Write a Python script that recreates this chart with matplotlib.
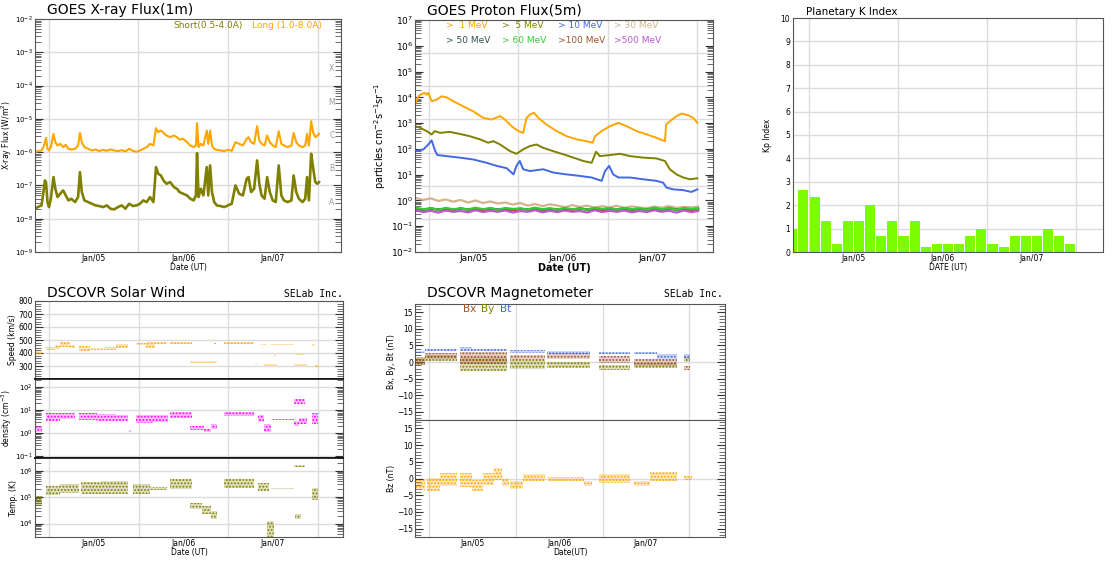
import numpy as np
import matplotlib.pyplot as plt
from matplotlib.ticker import LogLocator, MultipleLocator, NullFormatter

W, H = 1112, 561
plt.rcParams['font.family'] = ['DejaVu Sans']
plt.rcParams['hatch.linewidth'] = 0.9
fig = plt.figure(figsize=(W / 100, H / 100), dpi=100)

# time axis: hours from Jan/05 00:00 UT
day_edges = [0, 24, 48, 72]
day_mid = [12, 36, 60]
day_labels = ['Jan/05', 'Jan/06', 'Jan/07']

# ---------------- GOES X-ray (log10 W/m^2) ----------------
xray_t = [-3.7, -3, -2, -1.5, -1.1, -0.8, -0.4, 0, 0.5, 1.2, 1.7, 2.3, 3, 3.8, 4.5, 5.2, 6, 7, 7.8,
          8.3, 8.8, 9.5, 10.5, 11.5, 12.5, 13.5, 14.5, 15.5, 16.5, 17.5, 18.5, 19.5, 20.5, 21.5, 22.5,
          23.5, 24.4, 25.3, 26.2, 27.1, 28, 28.7, 29.3, 30, 30.7, 31.5, 32.5, 33.5, 34.3, 35, 36, 37,
          37.9, 38.8, 39.4, 39.7, 40.1, 40.7, 41.4, 42.3, 42.7, 43.2, 43.7, 44.3, 45, 46, 47, 48, 49,
          50, 51, 52, 53, 53.5, 54.2, 55, 55.8, 56.4, 57, 57.8, 58.5, 59.2, 60, 60.8, 61.6, 62.3, 63,
          64, 65, 65.6, 66.3, 67, 68, 68.7, 69.2, 69.7, 70.3, 70.8, 71.4, 72, 72.4]
xray_long = [-6.0, -5.97, -5.95, -5.85, -5.7, -5.57, -5.9, -5.95, -5.85, -5.45, -5.7, -5.8, -5.75,
             -5.85, -5.78, -5.9, -5.92, -5.9, -5.8, -5.42, -5.7, -5.85, -5.9, -5.95, -5.92, -5.97,
             -5.93, -5.96, -5.92, -5.95, -5.97, -5.94, -5.98, -5.9, -5.96, -5.99, -5.95, -5.9, -5.85,
             -5.75, -5.8, -5.28, -5.4, -5.35, -5.42, -5.5, -5.55, -5.5, -5.55, -5.62, -5.6, -5.7,
             -5.8, -5.85, -5.8, -5.13, -5.85, -5.75, -5.8, -5.35, -5.75, -5.35, -5.8, -5.9, -5.93,
             -5.95, -5.97, -5.93, -5.96, -5.7, -5.75, -5.8, -5.6, -5.55, -5.7, -5.75, -5.22, -5.65,
             -5.75, -5.8, -5.5, -5.7, -5.8, -5.85, -5.37, -5.75, -5.8, -5.85, -5.8, -5.42, -5.7,
             -5.8, -5.85, -5.8, -5.45, -5.8, -5.07, -5.4, -5.55, -5.5, -5.45]
xray_short = [-7.7, -7.65, -7.6, -7.2, -6.85, -6.9, -7.5, -7.65, -7.4, -6.75, -7.1, -7.35, -7.25,
              -7.15, -7.3, -7.45, -7.4, -7.5, -7.35, -6.6, -7.2, -7.45, -7.5, -7.55, -7.6, -7.62,
              -7.65, -7.6, -7.7, -7.72, -7.65, -7.6, -7.7, -7.55, -7.62, -7.6, -7.55, -7.45, -7.5,
              -7.35, -7.5, -6.45, -6.65, -6.7, -6.85, -6.95, -6.9, -7.05, -7.1, -7.2, -7.25, -7.3,
              -7.4, -7.45, -7.3, -6.03, -7.35, -7.1, -7.3, -6.45, -7.3, -6.4, -7.2, -7.5, -7.6,
              -7.62, -7.65, -7.6, -7.55, -7.0, -7.25, -7.3, -6.8, -6.75, -7.2, -7.1, -6.25, -6.95,
              -7.3, -7.4, -6.75, -7.2, -7.45, -7.5, -6.4, -7.3, -7.45, -7.5, -7.45, -6.7, -7.2,
              -7.4, -7.5, -7.4, -6.75, -7.45, -6.05, -6.45, -6.9, -6.95, -6.9]
flare_classes = ['X', 'M', 'C', 'B', 'A']
flare_levels = [-3.5, -4.5, -5.5, -6.5, -7.5]

# ---------------- GOES protons (log10 pfu) ----------------
p1_t = [-3.76, -2.86, -1.97, -1.07, -0.63, -0.18, 0.72, 2.06, 3.4, 4.74, 6.54, 9.22, 11.9, 14.6,
        16.8, 19.1, 20.4, 22.2, 24.0, 25.3, 26.2, 27.1, 28.2, 29.4, 31.6, 34.3, 37.0, 39.7, 42.3,
        44.0, 44.6, 46.4, 48.6, 50.9, 53.1, 55.8, 58.5, 61.1, 63.4, 63.7, 64.7, 66.5, 67.9, 69.7,
        71.0, 72.1]
p1_log = [3.72, 4.04, 4.13, 4.17, 4.1, 4.17, 3.85, 3.91, 4.04, 4.0, 3.85, 3.65, 3.46, 3.2, 3.14,
          3.27, 3.14, 2.88, 2.69, 2.62, 3.2, 3.33, 3.4, 3.2, 2.94, 2.69, 2.49, 2.37, 2.3, 2.24,
          2.49, 2.69, 2.88, 3.01, 2.88, 2.69, 2.56, 2.43, 2.3, 2.94, 3.07, 3.27, 3.37, 3.3, 3.2,
          3.01]
p5_t = [-3.76, -2.4, -0.63, 0.72, 1.6, 2.95, 5.6, 8.3, 11.0, 13.7, 15.9, 17.3, 19.1, 21.8, 23.5,
        25.3, 27.1, 28.9, 30.7, 33.4, 36.1, 38.8, 41.5, 43.7, 44.9, 45.9, 48.6, 51.3, 54.0, 57.6,
        61.1, 63.4, 64.7, 66.5, 68.3, 70.1, 72.1]
p5_log = [2.88, 2.82, 2.69, 2.56, 2.69, 2.62, 2.66, 2.58, 2.49, 2.37, 2.24, 2.3, 2.17, 1.91, 1.81,
          1.98, 2.11, 2.17, 2.04, 1.91, 1.79, 1.66, 1.53, 1.46, 1.89, 1.72, 1.76, 1.81, 1.72, 1.66,
          1.63, 1.53, 1.21, 1.01, 0.89, 0.82, 0.86]
p10_t = [-3.76, -1.5, -0.18, 0.72, 1.6, 2.24, 4.74, 8.3, 11.9, 15.5, 18.2, 20.9, 22.7, 23.5, 24.4,
         25.3, 27.1, 30.7, 33.4, 37.0, 40.6, 43.7, 46.4, 47.3, 48.4, 49.5, 50.9, 54.0, 57.6, 61.1,
         62.9, 63.8, 65.6, 68.3, 70.5, 72.1]
p10_log = [1.91, 1.98, 2.17, 2.33, 1.95, 1.76, 1.72, 1.66, 1.59, 1.46, 1.34, 1.25, 1.01, 1.34,
           1.53, 1.21, 1.14, 1.21, 1.08, 1.01, 0.95, 0.89, 0.76, 1.14, 1.34, 1.01, 0.89, 0.89, 0.82,
           0.76, 0.69, 0.5, 0.43, 0.4, 0.33, 0.43]
flat_t = [-3.7, -1.5, 0.5, 2.5, 4.5, 6.5, 8.5, 10.5, 12.5, 14.5, 16.5, 18.5, 20.5, 22.5, 24.5, 26.5,
          28.5, 30.5, 32.5, 34.5, 36.5, 38.5, 40.5, 42.5, 44.5, 46.5, 48.5, 50.5, 52.5, 54.5, 56.5,
          58.5, 60.5, 62.5, 64.5, 66.5, 68.5, 70.5, 72.3]
p30_log = [0.1, 0.02, 0.08, -0.02, 0.04, -0.05, 0.02, -0.08, 0.0, -0.1, -0.04, -0.12, -0.08, -0.16,
           -0.1, -0.2, -0.14, -0.22, -0.15, -0.2, -0.26, -0.18, -0.25, -0.2, -0.28, -0.22, -0.27,
           -0.21, -0.29, -0.23, -0.27, -0.3, -0.24, -0.28, -0.22, -0.29, -0.25, -0.27, -0.24]
p50_log = [-0.3, -0.36, -0.31, -0.35, -0.32, -0.37, -0.31, -0.35, -0.33, -0.36, -0.31, -0.35, -0.33,
           -0.37, -0.32, -0.35, -0.31, -0.36, -0.33, -0.35, -0.32, -0.36, -0.31, -0.35, -0.33, -0.37,
           -0.32, -0.35, -0.31, -0.36, -0.33, -0.35, -0.32, -0.36, -0.31, -0.35, -0.33, -0.36, -0.32]
p60_log = [-0.28, -0.34, -0.3, -0.36, -0.29, -0.34, -0.31, -0.35, -0.28, -0.34, -0.3, -0.36, -0.29,
           -0.33, -0.31, -0.35, -0.28, -0.34, -0.3, -0.35, -0.29, -0.34, -0.31, -0.36, -0.28, -0.33,
           -0.3, -0.35, -0.29, -0.34, -0.31, -0.35, -0.28, -0.34, -0.3, -0.36, -0.29, -0.33, -0.31]
p100_log = [-0.33, -0.37, -0.32, -0.36, -0.34, -0.38, -0.32, -0.36, -0.34, -0.37, -0.33, -0.36,
            -0.34, -0.38, -0.33, -0.36, -0.32, -0.37, -0.34, -0.36, -0.33, -0.37, -0.32, -0.36,
            -0.34, -0.38, -0.33, -0.36, -0.32, -0.37, -0.34, -0.36, -0.33, -0.37, -0.32, -0.36,
            -0.34, -0.37, -0.33]
p500_log = [-0.38, -0.45, -0.4, -0.47, -0.39, -0.44, -0.41, -0.46, -0.38, -0.45, -0.4, -0.44, -0.39,
            -0.47, -0.41, -0.44, -0.38, -0.46, -0.4, -0.45, -0.39, -0.44, -0.41, -0.47, -0.38, -0.45,
            -0.4, -0.44, -0.39, -0.46, -0.41, -0.45, -0.38, -0.44, -0.4, -0.47, -0.39, -0.45, -0.41]
proton_names = ['>  1 MeV', '>  5 MeV', '> 10 MeV', '> 30 MeV',
                '> 50 MeV', '> 60 MeV', '>100 MeV', '>500 MeV']
proton_colors = ['#FFA500', '#808000', '#4169E1', '#D2B48C',
                 '#2F4F4F', '#32CD32', '#A0522D', '#BA55D3']

# ---------------- Kp, 3-hour bins ----------------
kp_start = [-6, -3, 0, 3, 6, 9, 12, 15, 18, 21, 24, 27, 30, 33, 36, 39, 42, 45, 48, 51, 54, 57,
            60, 63, 66, 69]
kp_values = [1.0, 2.67, 2.33, 1.33, 0.33, 1.33, 1.33, 2.0, 0.67, 1.33, 0.67, 1.33, 0.2, 0.33,
             0.33, 0.33, 0.67, 1.0, 0.33, 0.2, 0.67, 0.67, 0.67, 1.0, 0.67, 0.33]

# ---------------- DSCOVR plasma: (t0, t1, low, high) ----------------
speed_segments = [(-3.75, -2.0, 395, 412), (-0.9, 1.5, 420, 445), (1.5, 3.0, 428, 458),
                  (3.0, 5.5, 450, 488), (5.5, 7.0, 438, 465), (8.0, 11.0, 418, 452),
                  (11.0, 15.0, 420, 442), (15.0, 18.0, 425, 450), (18.0, 21.3, 438, 468),
                  (21.4, 21.8, 375, 388), (23.2, 26.0, 458, 475), (26.0, 28.5, 438, 482),
                  (28.5, 31.5, 468, 482), (32.5, 38.3, 470, 482), (37.9, 45.0, 325, 340),
                  (44.2, 44.8, 466, 474), (46.8, 54.9, 472, 484), (55.2, 56.0, 305, 315),
                  (56.7, 58.5, 462, 470), (57.6, 61.1, 303, 315), (59.4, 65.6, 458, 468),
                  (60.2, 60.8, 380, 390), (65.6, 69.2, 298, 312), (66.0, 68.5, 382, 390),
                  (70.5, 71.4, 455, 470), (71.4, 72.3, 295, 308)]
density_segments = [(-3.75, -2.0, 1.1, 2.1), (-0.9, 3.0, 3.5, 8.0), (3.0, 7.0, 4.0, 7.5),
                    (8.0, 13.0, 3.8, 8.0), (13.0, 18.0, 3.5, 7.0), (18.0, 21.3, 3.5, 6.5),
                    (21.5, 21.9, 1.1, 1.4), (23.2, 28.0, 2.8, 6.0), (28.0, 32.0, 3.2, 6.0),
                    (32.5, 38.3, 4.5, 8.5), (37.9, 41.5, 1.4, 2.0), (41.5, 43.5, 1.1, 1.6),
                    (43.5, 45.0, 1.5, 2.5), (46.8, 55.0, 5.5, 8.5), (56.0, 57.5, 3.0, 6.0),
                    (57.6, 59.4, 1.1, 2.5), (59.4, 65.6, 3.8, 4.3), (65.6, 67.0, 2.0, 3.5),
                    (65.8, 68.5, 18.0, 30.0), (67.0, 69.2, 2.5, 4.5), (70.5, 72.0, 2.5, 8.0)]
temp_segments = [(-3.75, -2.0, 4.5e4, 1.1e5), (-0.9, 3.0, 1.2e5, 2.6e5), (3.0, 8.0, 1.4e5, 3.2e5),
                 (8.5, 14.0, 1.3e5, 3.6e5), (14.0, 21.3, 1.3e5, 4.2e5), (22.6, 27.0, 1.3e5, 3.0e5),
                 (27.0, 31.6, 1.9e5, 2.5e5), (32.5, 38.3, 2.0e5, 5.0e5), (37.9, 41.0, 3.5e4, 6.0e4),
                 (41.0, 43.5, 2.2e4, 4.5e4), (43.5, 45.0, 1.5e4, 3.0e4), (46.8, 55.0, 2.3e5, 5.0e5),
                 (56.0, 59.0, 1.7e5, 3.5e5), (58.3, 60.3, 3.2e3, 1.2e4), (59.4, 65.6, 2.0e5, 2.3e5),
                 (65.8, 68.5, 1.4e6, 1.7e6), (66.0, 67.5, 1.5e4, 2.2e4), (70.5, 72.0, 8e4, 2.2e5)]

# ---------------- DSCOVR magnetometer (nT) ----------------
bt_segments = [(-3.9, -1.1, 2.7, 3.4), (-1.1, 7.8, 3.4, 4.0), (8.6, 12.0, 3.4, 4.6),
               (12.0, 21.5, 3.2, 4.0), (22.4, 32.0, 2.7, 3.6), (32.6, 44.6, 2.3, 3.2),
               (46.9, 55.7, 2.5, 3.1), (56.6, 63.0, 2.3, 3.0), (63.0, 68.6, 1.0, 2.3),
               (70.5, 72.3, 0.8, 2.5)]
bx_segments = [(-3.9, -1.1, -1.0, 1.2), (-1.1, 7.8, 0.8, 2.8), (8.6, 21.5, -0.5, 3.0),
               (22.4, 32.0, 0.5, 2.2), (32.6, 44.6, 0.8, 2.6), (46.9, 55.7, -0.3, 1.8),
               (56.6, 68.6, -1.3, 1.0), (70.5, 72.3, -2.4, -1.2)]
by_segments = [(-3.9, -1.1, -0.8, 1.6), (-1.1, 7.8, 0.4, 2.0), (8.6, 21.5, -2.6, 1.5),
               (22.4, 32.0, -2.2, 0.6), (32.6, 44.6, -1.8, 0.0), (46.9, 55.7, -2.3, -0.8),
               (56.6, 68.6, -1.9, -0.3), (70.5, 72.3, 0.0, 1.6)]
bz_segments = [(-3.9, -1.1, -3.3, -0.3), (-0.6, 3.0, -3.8, 0.2), (3.0, 7.7, -2.3, 1.5),
               (8.6, 12.0, -2.5, 1.5), (12.0, 15.0, -3.8, -0.5), (15.0, 18.0, -2.0, 1.5),
               (18.0, 20.2, -0.5, 3.2), (20.3, 22.0, -2.3, 0.0), (22.4, 26.0, -3.0, -0.8),
               (26.0, 32.0, -0.8, 1.2), (33.0, 42.8, -0.8, 0.5), (42.8, 45.0, -2.3, -0.8),
               (47.0, 55.7, -1.3, 1.2), (56.6, 61.2, -2.3, -0.8), (61.2, 68.6, -0.8, 2.0),
               (70.5, 72.8, -0.5, 0.8)]

SPINE = '#555555'
GRID = '#dcdcdc'


def make_ax(l, t, r, b):
    ax = fig.add_axes([l / W, 1 - b / H, (r - l) / W, (b - t) / H])
    for s in ax.spines.values():
        s.set_color(SPINE)
        s.set_linewidth(0.8)
    return ax


def date_axis(ax, xlim, show=True, fs=5.5):
    ax.set_xlim(xlim)
    for d in day_edges:
        ax.axvline(d, color=GRID, lw=1.0, zorder=0)
    ax.set_xticks(day_mid)
    ax.set_xticklabels(day_labels if show else [], fontsize=fs)
    ax.tick_params(axis='x', length=0, pad=1.5)


def dense_ticks(ax, fs):
    ax.tick_params(axis='y', which='both', direction='in', left=True, right=True, labelsize=fs, pad=1.5)
    ax.tick_params(axis='y', which='major', length=6, width=0.8, color='#333333')
    ax.tick_params(axis='y', which='minor', length=4, width=0.5, color='#333333')


def log_y(ax, fs):
    ax.set_yscale('log')
    ax.yaxis.set_major_locator(LogLocator(base=10, numticks=20))
    ax.yaxis.set_minor_locator(LogLocator(base=10, subs=np.arange(2, 10), numticks=20))
    ax.yaxis.set_minor_formatter(NullFormatter())
    dense_ticks(ax, fs)


def bands(ax, segs, color):
    # dotted cloud: faint fill plus a dense dot hatch
    for t0, t1, lo, hi in segs:
        ax.fill_between([t0, t1], [lo, lo], [hi, hi], color=color, alpha=0.25, linewidth=0, zorder=2)
        ax.fill_between([t0, t1], [lo, lo], [hi, hi], facecolor='none', edgecolor=color,
                        hatch='.....', linewidth=0, zorder=2)


# ===== GOES X-ray =====
ax1 = make_ax(35, 19, 341, 252)
date_axis(ax1, (-3.75, 78.3))
log_y(ax1, 5)
ax1.set_ylim(1e-9, 1e-2)
for k in range(-8, -2):
    ax1.axhline(10.0 ** k, color=GRID, lw=1.0, zorder=0)
ax1.plot(xray_t, 10 ** np.array(xray_long), color='#FFA500', lw=1.5)
ax1.plot(xray_t, 10 ** np.array(xray_short), color='#808000', lw=1.9)
for c, lv in zip(flare_classes, flare_levels):
    ax1.text(0.97, 10 ** lv, c, color='#999999', fontsize=5.5, ha='center', va='center',
             transform=ax1.get_yaxis_transform())
ax1.set_ylabel('X-ray Flux (W/m$^2$)', fontsize=5.5, labelpad=1)
ax1.set_xlabel('Date (UT)', fontsize=5.5, labelpad=0)
fig.text(47 / W, 1 - 14 / H, 'GOES X-ray Flux(1m)', fontsize=10, va='baseline')
fig.text(173 / W, 1 - 28 / H, 'Short(0.5-4.0A)', fontsize=6.5, color='#808000', va='baseline')
fig.text(252 / W, 1 - 28 / H, 'Long (1.0-8.0A)', fontsize=6.5, color='#FFA500', va='baseline')

# ===== GOES protons =====
ax2 = make_ax(415, 20, 713, 252)
date_axis(ax2, (-3.75, 76.3), fs=6.5)
log_y(ax2, 6.5)
ax2.set_ylim(1e-2, 1e7)
for k in range(1, 7):
    ax2.plot([0, 1], [k / 7, k / 7], color=GRID, lw=1.0, transform=ax2.transAxes, zorder=0)
flat_series = [p30_log, p50_log, p100_log, p60_log, p500_log]
flat_colors = ['#D2B48C', '#2F4F4F', '#A0522D', '#32CD32', '#BA55D3']
for ser, col in zip(flat_series, flat_colors):
    ax2.plot(flat_t, 10 ** np.array(ser), color=col, lw=1.6)
ax2.plot(p10_t, 10 ** np.array(p10_log), color='#4169E1', lw=1.4)
ax2.plot(p5_t, 10 ** np.array(p5_log), color='#808000', lw=1.4)
ax2.plot(p1_t, 10 ** np.array(p1_log), color='#FFA500', lw=1.4)
ax2.set_ylabel('particles cm$^{-2}$s$^{-1}$sr$^{-1}$', fontsize=7, labelpad=2)
ax2.set_xlabel('Date (UT)', fontsize=7, labelpad=0, fontweight='bold')
fig.text(427 / W, 1 - 15 / H, 'GOES Proton Flux(5m)', fontsize=10, va='baseline')
col_x = [446, 502, 558, 614]
for i, (name, col) in enumerate(zip(proton_names, proton_colors)):
    fig.text(col_x[i % 4] / W, 1 - (28 if i < 4 else 43) / H, name, fontsize=6.5, color=col,
             va='baseline')

# ===== Kp =====
ax3 = make_ax(793, 18, 1103, 252)
date_axis(ax3, (-4.3, 79.3))
ax3.set_ylim(0, 10)
ax3.set_yticks(range(0, 11))
for k in range(1, 10):
    ax3.axhline(k, color=GRID, lw=1.0, zorder=0)
ax3.tick_params(axis='y', length=0, labelsize=5.5, pad=2)
ax3.bar(np.array(kp_start) + 0.15, kp_values, width=2.7, align='edge', color='#7CFC00', zorder=2)
ax3.set_ylabel('Kp Index', fontsize=5.5, labelpad=6)
ax3.set_xlabel('DATE (UT)', fontsize=5.5, labelpad=0)
fig.text(806 / W, 1 - 15 / H, 'Planetary K Index', fontsize=7.5, va='baseline')

# ===== DSCOVR solar wind =====
sw1 = make_ax(35, 301, 343, 379)
sw2 = make_ax(35, 379, 343, 458)
sw3 = make_ax(35, 458, 343, 537)
for a in (sw1, sw2, sw3):
    date_axis(a, (-3.75, 78.8), show=(a is sw3))
sw1.set_ylim(200, 800)
sw1.set_yticks([300, 400, 500, 600, 700, 800])
sw1.yaxis.set_minor_locator(MultipleLocator(20))
dense_ticks(sw1, 5.5)
for v in [300, 400, 500, 600, 700]:
    sw1.axhline(v, color=GRID, lw=1.0, zorder=0)
bands(sw1, speed_segments, '#FFA500')
sw1.set_ylabel('Speed (km/s)', fontsize=5.5, labelpad=1)

log_y(sw2, 5)
sw2.set_ylim(10 ** -1.07, 10 ** 2.36)
for k in [0.1, 1, 10, 100]:
    sw2.axhline(k, color=GRID, lw=1.0, zorder=0)
bands(sw2, density_segments, '#FF00FF')
sw2.set_ylabel('density (cm$^{-3}$)', fontsize=5.5, labelpad=1)

log_y(sw3, 5)
sw3.set_ylim(10 ** 3.49, 10 ** 6.48)
for k in [1e4, 1e5, 1e6]:
    sw3.axhline(k, color=GRID, lw=1.0, zorder=0)
bands(sw3, temp_segments, '#808000')
sw3.set_ylabel('Temp. (K)', fontsize=5.5, labelpad=1)
sw3.set_xlabel('Date (UT)', fontsize=5.5, labelpad=0)
for a in (sw1, sw2):
    a.spines['bottom'].set_color('#111111')
    a.spines['bottom'].set_linewidth(1.2)
for a in (sw2, sw3):
    a.spines['top'].set_color('#111111')
    a.spines['top'].set_linewidth(1.2)
fig.text(47 / W, 1 - 297 / H, 'DSCOVR Solar Wind', fontsize=10, va='baseline')
fig.text(343 / W, 1 - 297 / H, 'SELab Inc.', fontsize=7, family='DejaVu Sans Mono', ha='right',
         va='baseline')

# ===== DSCOVR magnetometer =====
mg1 = make_ax(415, 304, 725, 420)
mg2 = make_ax(415, 420, 725, 537)
for a in (mg1, mg2):
    date_axis(a, (-3.9, 81.9), show=(a is mg2))
    a.set_ylim(-17.5, 17.5)
    a.set_yticks([-15, -10, -5, 0, 5, 10, 15])
    a.yaxis.set_minor_locator(MultipleLocator(1))
    dense_ticks(a, 5.5)
    a.axhline(0, color=GRID, lw=1.0, zorder=0)
bands(mg1, by_segments, '#808000')
bands(mg1, bx_segments, '#A0522D')
bands(mg1, bt_segments, '#4169E1')
bands(mg2, bz_segments, '#FFA500')
mg1.set_ylabel('Bx, By, Bt (nT)', fontsize=5.5, labelpad=1)
mg2.set_ylabel('Bz (nT)', fontsize=5.5, labelpad=1)
mg2.set_xlabel('Date(UT)', fontsize=5.5, labelpad=0)
fig.text(427 / W, 1 - 297 / H, 'DSCOVR Magnetometer', fontsize=10, va='baseline')
fig.text(723 / W, 1 - 297 / H, 'SELab Inc.', fontsize=7, family='DejaVu Sans Mono', ha='right',
         va='baseline')
fig.text(463 / W, 1 - 312 / H, 'Bx', fontsize=7.5, color='#A0522D', va='baseline')
fig.text(481 / W, 1 - 312 / H, 'By', fontsize=7.5, color='#808000', va='baseline')
fig.text(500 / W, 1 - 312 / H, 'Bt', fontsize=7.5, color='#4169E1', va='baseline')

fig.savefig('out.png', dpi=100)
